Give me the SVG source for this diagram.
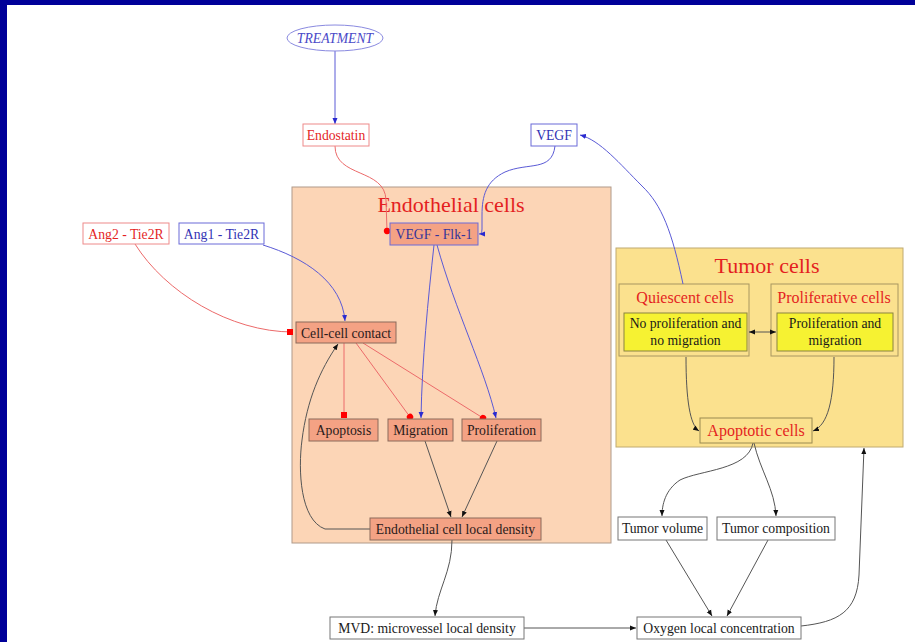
<svg xmlns="http://www.w3.org/2000/svg" width="915" height="642" viewBox="0 0 915 642">
<defs>
<style>
text{font-family:"Liberation Serif","Times New Roman",serif;}
.t{font-size:13.7px;text-anchor:middle;}
.red{fill:#e41f1f;}
.blue{fill:#3232b4;}
.dark{fill:#2a1a1a;}
.blk{fill:#1a1a1a;}
.endo{fill:#f4a284;stroke:#8a6a5a;stroke-width:1;}
.wbox{fill:#fff;stroke:#777;stroke-width:1;}
.ybox{fill:#f6f232;stroke:#8a8440;stroke-width:1;}
.e{fill:none;stroke-width:1;}
.eb{stroke:#5a5ad6;}
.er{stroke:#ec6a6a;}
.ek{stroke:#555;}
</style>
<marker id="ab" markerUnits="userSpaceOnUse" markerWidth="7" markerHeight="6" refX="6" refY="3" orient="auto"><path d="M0,0.5 L6,3 L0,5.5z" fill="#2a2ad0"/></marker>
<marker id="ak" markerUnits="userSpaceOnUse" markerWidth="7" markerHeight="6" refX="6" refY="3" orient="auto"><path d="M0,0.5 L6,3 L0,5.5z" fill="#111"/></marker>
<marker id="aks" markerUnits="userSpaceOnUse" markerWidth="7" markerHeight="6" refX="0" refY="3" orient="auto"><path d="M6,0.5 L0,3 L6,5.5z" fill="#111"/></marker>
<marker id="dr" markerUnits="userSpaceOnUse" markerWidth="8" markerHeight="8" refX="4" refY="4" orient="auto"><circle cx="4" cy="4" r="3.2" fill="#f00"/></marker>
<marker id="sr" markerUnits="userSpaceOnUse" markerWidth="8" markerHeight="8" refX="6" refY="3" orient="auto"><rect x="0" y="0" width="6" height="6" fill="#f00"/></marker>
</defs>
<rect x="0" y="0" width="915" height="642" fill="#000099"/>
<rect x="7" y="5" width="908" height="637" fill="#fff"/>

<g id="cluster-endothelial">
<rect x="292" y="187" width="319" height="356" fill="#fcd5b6" stroke="#b09a8a" stroke-width="1"/>
<text x="451" y="212" font-size="22" text-anchor="middle" class="red">Endothelial cells</text>
</g>
<g id="cluster-tumor">
<rect x="616" y="248" width="287" height="199" fill="#fbe18e" stroke="#c0aa70" stroke-width="1"/>
<text x="767" y="273" font-size="22" text-anchor="middle" class="red">Tumor cells</text>
</g>
<g id="cluster-quiescent">
<rect x="619" y="284" width="130" height="72" fill="#fbe18e" stroke="#a89660" stroke-width="1"/>
<text x="685" y="303" font-size="16" text-anchor="middle" class="red">Quiescent cells</text>
</g>
<g id="cluster-proliferative">
<rect x="771" y="284" width="127" height="72" fill="#fbe18e" stroke="#a89660" stroke-width="1"/>
<text x="834" y="303" font-size="16" text-anchor="middle" class="red">Proliferative cells</text>
</g>

<g id="connectors">
<path class="e eb" d="M335,51 L335,124" marker-end="url(#ab)"/>
<path class="e er" d="M335,146 C335,178 385,168 386,200 L387,231" marker-end="url(#dr)"/>
<path class="e eb" d="M555,146 C552,172 528,162 505,172 C486,181 482,196 482,215 L482,229 Q482,234 479,234" marker-end="url(#ab)"/>
<path class="e er" d="M135,244 C165,292 230,332 293,332" marker-end="url(#sr)"/>
<path class="e eb" d="M263,245 C305,258 342,282 345,321" marker-end="url(#ab)"/>
<path class="e er" d="M344,343 L344,418" marker-end="url(#sr)"/>
<path class="e er" d="M356,343 L410,417" marker-end="url(#dr)"/>
<path class="e er" d="M363,343 L483,418" marker-end="url(#dr)"/>
<path class="e eb" d="M434,245 C428,300 422,360 421,418" marker-end="url(#ab)"/>
<path class="e eb" d="M437,245 C455,310 485,370 496,418" marker-end="url(#ab)"/>
<path class="e ek" d="M425,441 L451,517" marker-end="url(#ak)"/>
<path class="e ek" d="M497,441 L462,517" marker-end="url(#ak)"/>
<path class="e ek" d="M370,529 L325,529 C300,520 298,470 302,440 C307,400 320,370 338,344" marker-end="url(#ak)"/>
<path class="e ek" d="M452,540 C452,572 437,590 435,616" marker-end="url(#ak)"/>
<path class="e ek" d="M524,628 L636,628" marker-end="url(#ak)"/>
<path class="e ek" d="M666,540 L712,616" marker-end="url(#ak)"/>
<path class="e ek" d="M768,540 L727,616" marker-end="url(#ak)"/>
<path class="e ek" d="M801,626 C838,622 857,612 859,575 L864,448" marker-end="url(#ak)"/>
<path class="e eb" d="M683,284 C672,232 662,205 642,186 C620,164 600,140 580,135" marker-end="url(#ab)"/>
<path class="e ek" d="M686,357 C686,400 690,425 699,431" marker-end="url(#ak)"/>
<path class="e ek" d="M834,357 C834,400 828,425 813,431" marker-end="url(#ak)"/>
<path class="e ek" d="M749,332 L776,332" marker-start="url(#aks)" marker-end="url(#ak)"/>
<path class="e ek" d="M753,443 C748,470 700,470 680,480 C665,490 662,505 662,516" marker-end="url(#ak)"/>
<path class="e ek" d="M754,443 C760,470 775,490 776,516" marker-end="url(#ak)"/>
</g>

<g id="treatment">
<ellipse cx="335" cy="38" rx="48" ry="13" fill="#fff" stroke="#8a8ae0" stroke-width="1"/>
<text x="335" y="43" font-size="13.7" font-style="italic" text-anchor="middle" fill="#4a4ac8">TREATMENT</text>
</g>
<g id="endostatin">
<rect x="303" y="124" width="66" height="22" fill="#fff" stroke="#ee8a8a"/>
<text x="336" y="140" class="t red">Endostatin</text>
</g>
<g id="vegf">
<rect x="531" y="124" width="46" height="22" fill="#fff" stroke="#6a6ad8"/>
<text x="554" y="140" class="t blue">VEGF</text>
</g>
<g id="ang2">
<rect x="83" y="223" width="86" height="21" fill="#fff" stroke="#ee8a8a"/>
<text x="126" y="239" class="t red">Ang2 - Tie2R</text>
</g>
<g id="ang1">
<rect x="179" y="223" width="85" height="21" fill="#fff" stroke="#6a6ad8"/>
<text x="221.500" y="239" class="t blue">Ang1 - Tie2R</text>
</g>
<g id="vegf-flk1">
<rect x="390" y="223" width="88" height="22" fill="#f4a284" stroke="#6a6ad8"/>
<text x="434" y="239" class="t" fill="#33339a">VEGF - Flk-1</text>
</g>
<g id="cell-cell-contact">
<rect x="296" y="322" width="100" height="21" class="endo"/>
<text x="346" y="338" class="t dark">Cell-cell contact</text>
</g>
<g id="apoptosis">
<rect x="309" y="419" width="69" height="22" class="endo"/>
<text x="343.500" y="435" class="t dark">Apoptosis</text>
</g>
<g id="migration">
<rect x="388" y="419" width="65" height="22" class="endo"/>
<text x="420.500" y="435" class="t dark">Migration</text>
</g>
<g id="proliferation">
<rect x="462" y="419" width="79" height="22" class="endo"/>
<text x="501.500" y="435" class="t dark">Proliferation</text>
</g>
<g id="endothelial-density">
<rect x="370" y="518" width="171" height="22" class="endo"/>
<text x="455.500" y="534" class="t dark">Endothelial cell local density</text>
</g>
<g id="no-proliferation">
<rect x="624" y="313" width="123" height="38" class="ybox"/>
<text x="685.500" y="328" class="t blk">No proliferation and</text>
<text x="685.500" y="345" class="t blk">no migration</text>
</g>
<g id="proliferation-migration">
<rect x="777" y="313" width="116" height="38" class="ybox"/>
<text x="835" y="328" class="t blk">Proliferation and</text>
<text x="835" y="345" class="t blk">migration</text>
</g>
<g id="apoptotic-cells">
<rect x="700" y="418" width="112" height="25" fill="#fbe18e" stroke="#9a8a50"/>
<text x="756" y="436" font-size="16" text-anchor="middle" class="red">Apoptotic cells</text>
</g>
<g id="tumor-volume">
<rect x="618" y="517" width="89" height="23" class="wbox"/>
<text x="662.500" y="533" class="t blk">Tumor volume</text>
</g>
<g id="tumor-composition">
<rect x="717" y="517" width="118" height="23" class="wbox"/>
<text x="776" y="533" class="t blk">Tumor composition</text>
</g>
<g id="mvd">
<rect x="330" y="617" width="194" height="22" class="wbox"/>
<text x="427" y="633" class="t blk">MVD: microvessel local density</text>
</g>
<g id="oxygen">
<rect x="637" y="617" width="164" height="22" class="wbox"/>
<text x="719" y="633" class="t blk">Oxygen local concentration</text>
</g>
</svg>
